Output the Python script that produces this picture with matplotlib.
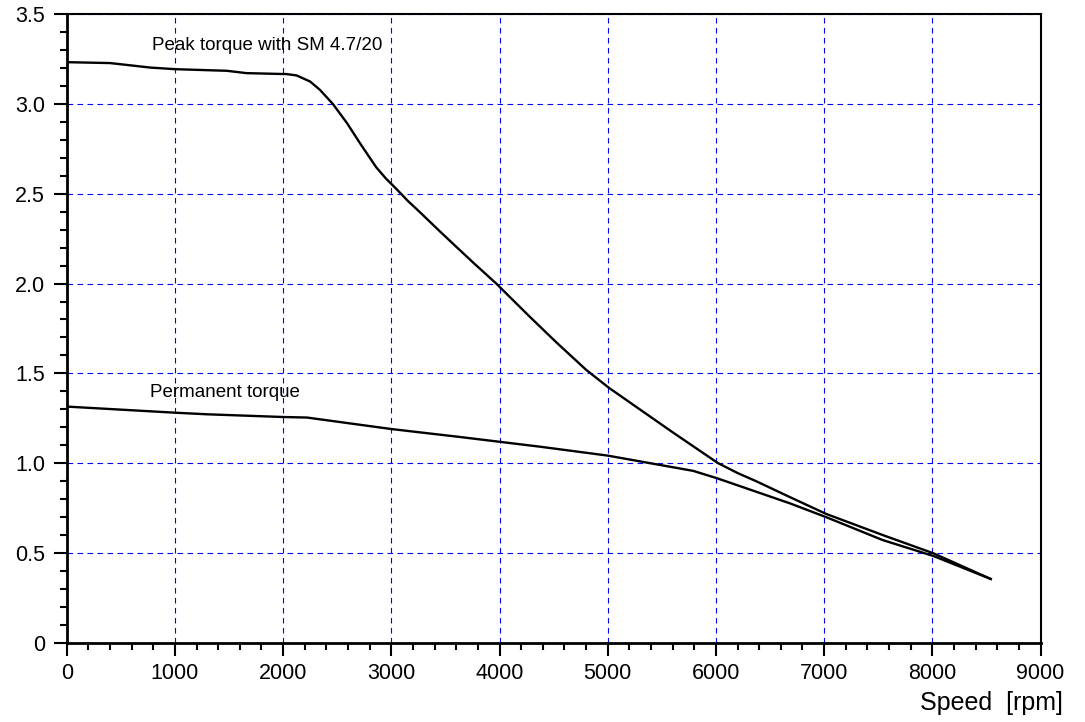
import matplotlib.pyplot as plt
import numpy as np
from matplotlib.ticker import MultipleLocator, FuncFormatter

plt.rcParams["font.family"] = ["Liberation Sans", "DejaVu Sans"]

# peak torque with SM 4.7/20
peak_rpm = [0, 400, 550, 770, 1000, 1480, 1660, 2000, 2030, 2125, 2250, 2340,
            2460, 2590, 2710, 2860, 2950, 3050, 3150, 3260, 3450, 3600, 3760,
            3970, 4280, 4530, 4800, 5010, 5300, 5600, 5800, 6020, 6200, 6370,
            6680, 7020, 7540, 8010, 8540]
peak_torque = [3.233, 3.228, 3.218, 3.203, 3.194, 3.185, 3.172, 3.167, 3.167,
               3.159, 3.125, 3.079, 3.0, 2.894, 2.782, 2.648, 2.585, 2.525,
               2.462, 2.40, 2.29, 2.205, 2.115, 2.0, 1.815, 1.67, 1.52, 1.42,
               1.298, 1.172, 1.09, 1.0, 0.945, 0.9, 0.812, 0.717, 0.6, 0.498,
               0.355]

# permanent torque
perm_rpm = [0, 1000, 1300, 2000, 2220, 3000, 3630, 4370, 5000, 5790, 6010,
            6680, 7020, 7540, 8010, 8540]
perm_torque = [1.315, 1.281, 1.272, 1.257, 1.254, 1.19, 1.146, 1.092, 1.042,
               0.957, 0.916, 0.777, 0.699, 0.572, 0.483, 0.355]

fig = plt.figure(figsize=(10.85, 7.22), dpi=100)
ax = fig.add_axes([0.0615, 0.1098, 0.8975, 0.8705])

ax.plot(peak_rpm, peak_torque, color="black", lw=1.7, zorder=3)
ax.plot(perm_rpm, perm_torque, color="black", lw=1.7, zorder=3)

ax.text(785, 3.326, "Peak torque with SM 4.7/20", fontsize=13.5, va="center")
ax.text(769, 1.391, "Permanent torque", fontsize=13.5, va="center")

ax.set_xlim(0, 9000)
ax.set_ylim(0, 3.5)
ax.xaxis.set_major_locator(MultipleLocator(1000))
ax.xaxis.set_minor_locator(MultipleLocator(200))
ax.yaxis.set_major_locator(MultipleLocator(0.5))
ax.yaxis.set_minor_locator(MultipleLocator(0.1))
ax.yaxis.set_major_formatter(FuncFormatter(lambda v, p: "0" if v == 0 else f"{v:.1f}"))

ax.tick_params(which="major", direction="out", length=9.5, width=1.5, labelsize=15.5)
ax.tick_params(which="minor", direction="out", length=5, width=1.5)
ax.tick_params(axis="x", pad=5)
ax.tick_params(axis="y", pad=6)

ax.grid(True, which="major", color="#0000ff", lw=0.8, ls=(0, (5, 4)))

ax.spines["left"].set_linewidth(2)
ax.spines["bottom"].set_linewidth(2)
ax.spines["top"].set_linewidth(1.5)
ax.spines["right"].set_linewidth(1.5)

fig.text(0.98, 1 - 703 / 722, "Speed  [rpm]", fontsize=18, ha="right", va="center")

fig.savefig("out.png", dpi=100)
